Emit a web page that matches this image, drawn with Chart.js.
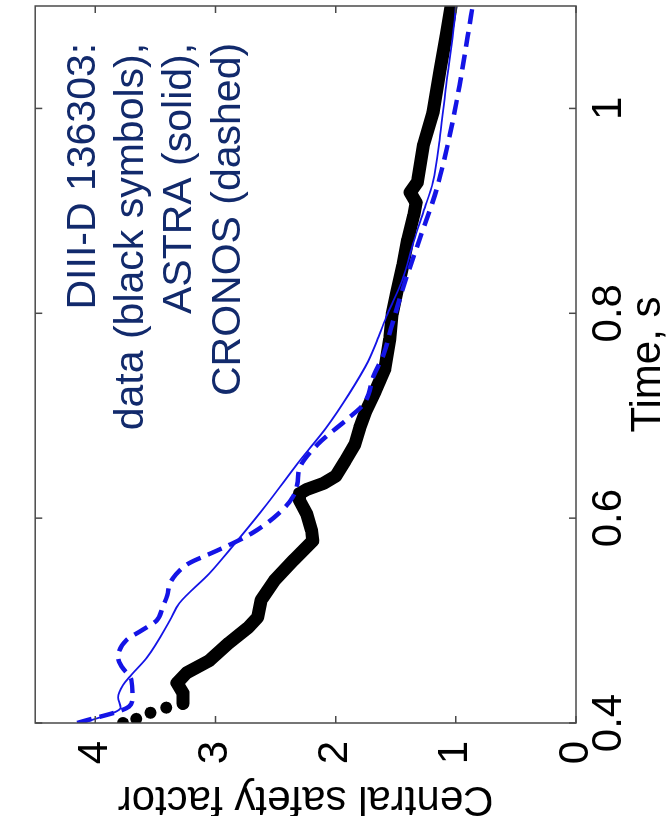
<!DOCTYPE html>
<html>
<head>
<meta charset="utf-8">
<script src="https://cdn.jsdelivr.net/npm/chart.js@4.4.1/dist/chart.umd.min.js"></script>
<style>
  html, body { margin: 0; padding: 0; background: #fff; overflow: hidden; }
  /* the figure is drawn upright, then turned a quarter turn counter-clockwise */
  #wrap {
    position: absolute; left: 0; top: 0;
    width: 816px; height: 667px;
    transform-origin: 0 0;
    transform: translate(0, 816px) rotate(-90deg);
  }
</style>
</head>
<body>
<div id="wrap"><canvas id="chart" width="816" height="667"></canvas></div>
<script>
// measured data (black symbols)
const dataTime = [0.400, 0.404, 0.410, 0.415, 0.419,
    0.429, 0.439, 0.449, 0.461, 0.478, 0.493, 0.503, 0.520, 0.539, 0.559, 0.578,
    0.588, 0.604, 0.617, 0.624, 0.628, 0.634, 0.641, 0.656, 0.672, 0.688, 0.704,
    0.724, 0.746, 0.775, 0.799, 0.821, 0.847, 0.872, 0.896, 0.908, 0.918, 0.928,
    0.964, 0.996, 1.038, 1.071, 1.100];
const dataQ = [3.77, 3.66, 3.54, 3.41, 3.27,
    3.27, 3.32, 3.24, 3.05, 2.89, 2.73, 2.65, 2.62, 2.51, 2.35, 2.19,
    2.20, 2.24, 2.30, 2.30, 2.24, 2.10, 2.00, 1.92, 1.84, 1.80, 1.75,
    1.67, 1.59, 1.55, 1.53, 1.49, 1.44, 1.40, 1.35, 1.33, 1.38, 1.32,
    1.27, 1.19, 1.13, 1.08, 1.04];

// ASTRA (solid)
const astraTime = [0.400, 0.415, 0.425, 0.437, 0.447, 0.464, 0.500, 0.517, 0.546,
    0.575, 0.614, 0.656, 0.688, 0.721, 0.753, 0.775, 0.799, 0.831, 0.870, 0.899,
    0.928, 0.974, 1.022, 1.086, 1.100];
const astraQ = [4.10, 3.79, 3.81, 3.77, 3.70, 3.57, 3.38, 3.30, 3.05,
    2.84, 2.57, 2.30, 2.08, 1.89, 1.73, 1.65, 1.57, 1.45, 1.35, 1.27,
    1.19, 1.13, 1.08, 1.01, 1.00];

// CRONOS (dashed)
const cronosTime = [0.400, 0.416, 0.425, 0.442, 0.455, 0.464, 0.481, 0.490, 0.500,
    0.513, 0.525, 0.536, 0.545, 0.556, 0.565, 0.573, 0.585, 0.604, 0.620, 0.633,
    0.649, 0.672, 0.698, 0.711, 0.740, 0.760, 0.785, 0.828, 0.876, 0.921, 0.974,
    1.022, 1.071, 1.100];
const cronosQ = [4.15, 3.72, 3.69, 3.70, 3.78, 3.81, 3.74, 3.62, 3.49,
    3.44, 3.40, 3.38, 3.33, 3.22, 3.05, 2.90, 2.70, 2.48, 2.36, 2.32,
    2.30, 2.15, 1.89, 1.77, 1.68, 1.60, 1.54, 1.43, 1.29, 1.16, 1.05,
    0.97, 0.90, 0.86];

const timeTicks = [0.4, 0.6, 0.8, 1];
const qTicks = [0, 1, 2, 3, 4];
const noteLines = ['DIII-D 136303:', 'data (black symbols),', 'ASTRA (solid),', 'CRONOS (dashed)'];

const FONT = "'Liberation Sans', Arial, Helvetica, sans-serif";
const LINE_BLUE = '#1414e6';
const TICK = 7;

function pairs(xs, ys) {
    return xs.map((x, i) => ({ x: x, y: ys[i] }));
}

// box round the plot with inward ticks on all four sides
const axesBox = {
    id: 'axesBox',
    afterDatasetsDraw(chart) {
        const { ctx, chartArea: a, scales: { x, y } } = chart;
        ctx.save();
        ctx.strokeStyle = '#4a4a4a';
        ctx.lineWidth = 1.5;
        ctx.strokeRect(a.left, a.top, a.right - a.left, a.bottom - a.top);
        ctx.beginPath();
        x.ticks.forEach(t => {
            const px = x.getPixelForValue(t.value);
            ctx.moveTo(px, a.bottom); ctx.lineTo(px, a.bottom - TICK);
            ctx.moveTo(px, a.top); ctx.lineTo(px, a.top + TICK);
        });
        y.ticks.forEach(t => {
            const py = y.getPixelForValue(t.value);
            ctx.moveTo(a.left, py); ctx.lineTo(a.left + TICK, py);
            ctx.moveTo(a.right, py); ctx.lineTo(a.right - TICK, py);
        });
        ctx.stroke();
        ctx.restore();
    }
};

// the text note in the upper right of the plot
const note = {
    id: 'note',
    afterDraw(chart) {
        const { ctx, scales: { x, y } } = chart;
        const right = x.getPixelForValue(1.064);
        ctx.save();
        ctx.font = '41px ' + FONT;
        ctx.fillStyle = '#122a6c';
        ctx.textAlign = 'right';
        ctx.textBaseline = 'alphabetic';
        noteLines.forEach((line, i) => {
            ctx.fillText(line, right, y.getPixelForValue(4.0 - 0.4 * i));
        });
        ctx.restore();
    }
};

new Chart(document.getElementById('chart'), {
    type: 'scatter',
    data: {
        datasets: [
            {
                label: 'CRONOS',
                data: pairs(cronosTime, cronosQ),
                showLine: true,
                borderColor: LINE_BLUE,
                borderWidth: 4.5,
                borderDash: [15, 8],
                pointRadius: 0,
                cubicInterpolationMode: 'monotone'
            },
            {
                label: 'ASTRA',
                data: pairs(astraTime, astraQ),
                showLine: true,
                borderColor: LINE_BLUE,
                borderWidth: 1.8,
                pointRadius: 0,
                cubicInterpolationMode: 'monotone'
            },
            {
                label: 'data',
                data: pairs(dataTime, dataQ),
                showLine: true,
                borderColor: '#000',
                borderWidth: 13,
                borderJoinStyle: 'round',
                borderCapStyle: 'round',
                pointRadius: 6,
                pointBackgroundColor: '#000',
                pointBorderWidth: 0,
                segment: {
                    borderColor: ctx => ctx.p0DataIndex < 4 ? 'rgba(0,0,0,0)' : '#000'
                }
            }
        ]
    },
    options: {
        responsive: false,
        animation: false,
        devicePixelRatio: 1,
        layout: { padding: { top: 22, right: 3, left: 0, bottom: 0 } },
        plugins: { legend: { display: false }, tooltip: { enabled: false } },
        scales: {
            x: {
                type: 'linear',
                min: 0.4,
                max: 1.1,
                afterFit: s => { s.height = 91; },
                afterBuildTicks: s => { s.ticks = timeTicks.map(v => ({ value: v })); },
                grid: { display: false },
                border: { display: false },
                ticks: {
                    color: '#000',
                    padding: 0,
                    font: { family: FONT, size: 42 },
                    callback: v => String(+v.toFixed(1))
                },
                title: {
                    display: true,
                    text: 'Time, s',
                    color: '#000',
                    font: { family: FONT, size: 42, lineHeight: 0.9 },
                    padding: { top: 0, bottom: 0 }
                }
            },
            y: {
                type: 'linear',
                min: 0,
                max: 4.5,
                afterFit: s => { s.width = 93; },
                afterBuildTicks: s => { s.ticks = qTicks.map(v => ({ value: v })); },
                grid: { display: false },
                border: { display: false },
                ticks: {
                    color: '#000',
                    padding: 10,
                    font: { family: FONT, size: 42 },
                    callback: v => String(v)
                },
                title: {
                    display: true,
                    text: 'Central safety factor',
                    color: '#000',
                    font: { family: FONT, size: 42, lineHeight: 0.85 },
                    padding: { top: 0, bottom: 0 }
                }
            }
        }
    },
    plugins: [axesBox, note]
});
</script>
</body>
</html>
